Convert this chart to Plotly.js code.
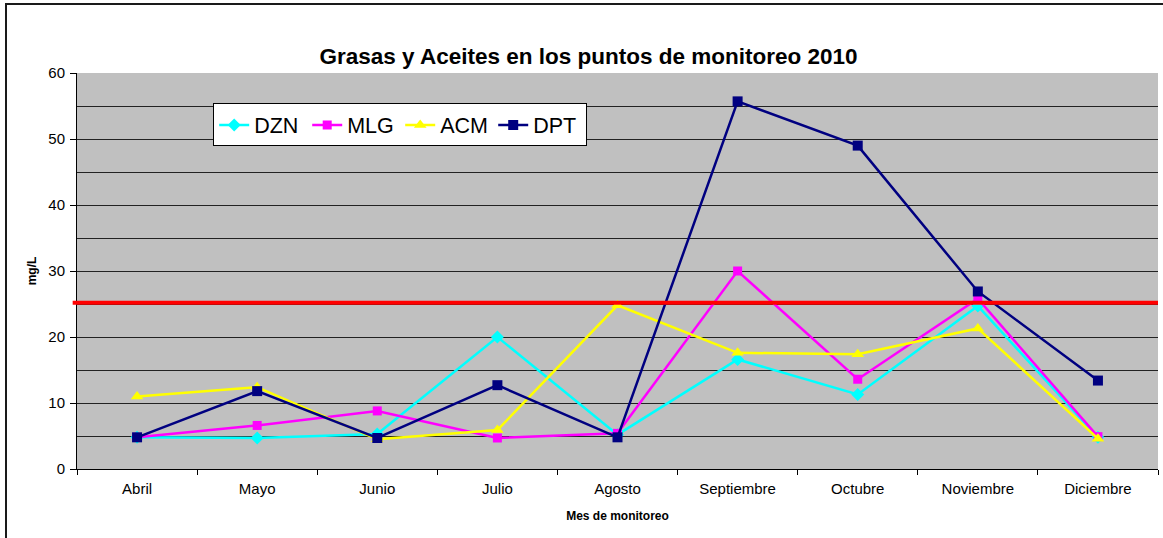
<!DOCTYPE html>
<html>
<head>
<meta charset="utf-8">
<script src="https://cdn.plot.ly/plotly-3.0.1.min.js"></script>
<style>
  body { margin: 0; background: #fff; }
  #wrap { position: relative; width: 1163px; height: 538px; overflow: hidden; }
  #chart { position: absolute; left: 0; top: 0; width: 1163px; height: 538px; }
  #frame { position: absolute; left: 5px; top: 3px; width: 1200px; height: 600px;
           border-left: 2px solid #1a1a1a; border-top: 2px solid #1a1a1a; pointer-events: none; }
</style>
</head>
<body>
<div id="wrap">
  <div id="chart"></div>
  <div id="frame"></div>
</div>
<script>
const months = ["Abril", "Mayo", "Junio", "Julio", "Agosto", "Septiembre", "Octubre", "Noviembre", "Diciembre"];
const DZN = [4.8, 4.7, 5.3, 20.0, 5.2, 16.6, 11.3, 24.7, 4.8];
const MLG = [4.8, 6.6, 8.8, 4.7, 5.4, 30.0, 13.6, 25.8, 4.9];
const ACM = [11.0, 12.4, 4.5, 5.9, 24.8, 17.6, 17.4, 21.3, 4.6];
const DPT = [4.8, 11.8, 4.7, 12.7, 4.8, 55.7, 49.0, 26.9, 13.4];
const limite = 25.2;

const font = "Arial, 'Liberation Sans', sans-serif";

function tr(name, y, color, symbol, size) {
  return {
    x: months, y: y, name: name, type: "scatter", mode: "lines+markers",
    line: { color: color, width: 2.5 },
    marker: { color: color, symbol: symbol, size: size }
  };
}

const data = [
  tr("DZN", DZN, "#00FFFF", "diamond", 10),
  tr("MLG", MLG, "#FF00FF", "square", 9),
  tr("ACM", ACM, "#FFFF00", "triangle-up", 11),
  tr("DPT", DPT, "#000080", "square", 10)
];

const layout = {
  width: 1163, height: 538,
  margin: { l: 77, r: 5, t: 73, b: 69 },
  paper_bgcolor: "rgba(0,0,0,0)",
  plot_bgcolor: "#C0C0C0",
  font: { family: font, color: "#000", size: 15 },
  title: {
    text: "<b>Grasas y Aceites en los puntos de monitoreo 2010</b>",
    font: { family: font, size: 22.5, color: "#000" },
    xref: "container", x: 0.506, xanchor: "center",
    yref: "container", y: 0.896, yanchor: "middle"
  },
  showlegend: true,
  legend: {
    orientation: "h",
    x: 0.126, xanchor: "left", y: 0.923, yanchor: "top",
    bgcolor: "#FFFFFF", bordercolor: "#000", borderwidth: 1,
    font: { family: font, size: 21.5, color: "#000" },
    itemwidth: 30, tracegroupgap: 0,
    entrywidth: 48, entrywidthmode: "pixels"
  },
  xaxis: {
    type: "category",
    showline: true, linecolor: "#000", linewidth: 1,
    ticks: "outside", ticklen: 5, tickcolor: "#000", tickson: "boundaries",
    showgrid: false, zeroline: false,
    ticklabelstandoff: 6,
    tickfont: { family: font, size: 15, color: "#000" },
    title: { text: "<b>Mes de monitoreo</b>", font: { family: font, size: 12, color: "#000" }, standoff: 15 },
    range: [-0.5, 8.5]
  },
  yaxis: {
    range: [0, 60], dtick: 10, tick0: 0,
    showline: true, linecolor: "#000", linewidth: 1,
    ticks: "outside", ticklen: 6, tickcolor: "#000",
    showgrid: true, gridcolor: "#222", gridwidth: 1,
    minor: { dtick: 5, showgrid: true, gridcolor: "#222", gridwidth: 1 },
    zeroline: false,
    ticklabelstandoff: 2,
    tickfont: { family: font, size: 15, color: "#000" },
    title: { text: "<b>mg/L</b>", font: { family: font, size: 12, color: "#000" }, standoff: 9 }
  },
  shapes: [{
    type: "line", xref: "paper", yref: "y", layer: "above",
    x0: -0.004, x1: 1, y0: limite, y1: limite,
    line: { color: "#FF0000", width: 4 }
  }]
};

Plotly.newPlot("chart", data, layout, { displayModeBar: false, staticPlot: true });
</script>
</body>
</html>
